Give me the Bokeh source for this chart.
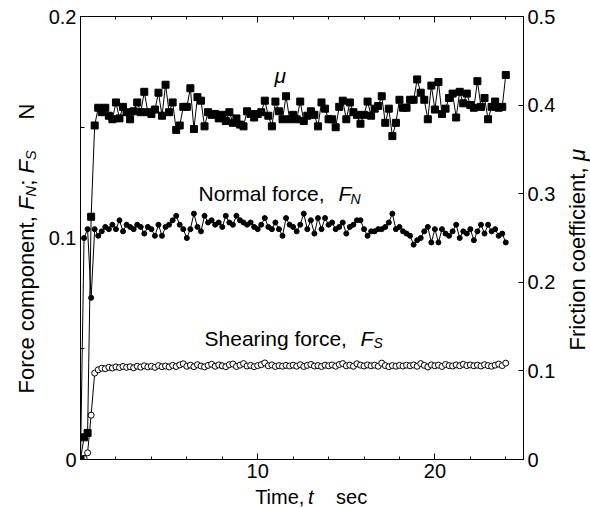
import numpy as np
from bokeh.plotting import figure
from bokeh.layouts import row, column
from bokeh.models import Range1d, LinearAxis, FixedTicker, Label
from bokeh.embed import file_html
from bokeh.resources import INLINE

# ---------------- data ----------------
time_s = [0.0, 0.2, 0.4, 0.6, 0.8, 1.0, 1.2, 1.4, 1.6, 1.8,
          2.0, 2.2, 2.4, 2.6, 2.8, 3.0, 3.2, 3.4, 3.6, 3.8,
          4.0, 4.2, 4.4, 4.6, 4.8, 5.0, 5.2, 5.4, 5.6, 5.8,
          6.0, 6.2, 6.4, 6.6, 6.8, 7.0, 7.2, 7.4, 7.6, 7.8,
          8.0, 8.2, 8.4, 8.6, 8.8, 9.0, 9.2, 9.4, 9.6, 9.8,
          10.0, 10.2, 10.4, 10.6, 10.8, 11.0, 11.2, 11.4, 11.6, 11.8,
          12.0, 12.2, 12.4, 12.6, 12.8, 13.0, 13.2, 13.4, 13.6, 13.8,
          14.0, 14.2, 14.4, 14.6, 14.8, 15.0, 15.2, 15.4, 15.6, 15.8,
          16.0, 16.2, 16.4, 16.6, 16.8, 17.0, 17.2, 17.4, 17.6, 17.8,
          18.0, 18.2, 18.4, 18.6, 18.8, 19.0, 19.2, 19.4, 19.6, 19.8,
          20.0, 20.2, 20.4, 20.6, 20.8, 21.0, 21.2, 21.4, 21.6, 21.8,
          22.0, 22.2, 22.4, 22.6, 22.8, 23.0, 23.2, 23.4, 23.6, 23.8,
          24.0]

friction_mu = [0.0, 0.025, 0.030, 0.274, 0.377, 0.397, 0.392, 0.397, 0.388, 0.384,
               0.403, 0.385, 0.398, 0.392, 0.384, 0.393, 0.403, 0.392, 0.415, 0.392,
               0.390, 0.395, 0.414, 0.388, 0.423, 0.392, 0.403, 0.372, 0.377, 0.398,
               0.398, 0.419, 0.373, 0.409, 0.405, 0.376, 0.392, 0.389, 0.390, 0.385,
               0.389, 0.382, 0.392, 0.380, 0.385, 0.378, 0.376, 0.393, 0.390, 0.386,
               0.390, 0.392, 0.405, 0.388, 0.376, 0.404, 0.393, 0.384, 0.410, 0.384,
               0.389, 0.384, 0.404, 0.382, 0.388, 0.393, 0.389, 0.376, 0.403, 0.396,
               0.384, 0.384, 0.375, 0.398, 0.405, 0.384, 0.403, 0.392, 0.389, 0.379,
               0.389, 0.404, 0.388, 0.396, 0.399, 0.410, 0.380, 0.396, 0.365, 0.380,
               0.406, 0.397, 0.397, 0.406, 0.406, 0.429, 0.414, 0.406, 0.384, 0.422,
               0.395, 0.426, 0.390, 0.396, 0.408, 0.413, 0.386, 0.415, 0.402, 0.413,
               0.400, 0.397, 0.427, 0.398, 0.408, 0.384, 0.398, 0.404, 0.397, 0.398,
               0.434]

normal_force = [0.0, 0.100, 0.104, 0.073, 0.104, 0.101, 0.103, 0.105, 0.104, 0.106,
                0.104, 0.108, 0.103, 0.106, 0.105, 0.104, 0.106, 0.105, 0.102, 0.105,
                0.104, 0.101, 0.106, 0.101, 0.105, 0.106, 0.108, 0.110, 0.106, 0.104,
                0.100, 0.104, 0.111, 0.105, 0.103, 0.110, 0.107, 0.108, 0.106, 0.107,
                0.105, 0.110, 0.107, 0.106, 0.110, 0.108, 0.107, 0.106, 0.107, 0.105,
                0.104, 0.106, 0.109, 0.105, 0.104, 0.107, 0.104, 0.101, 0.109, 0.106,
                0.105, 0.103, 0.106, 0.111, 0.104, 0.108, 0.102, 0.109, 0.104, 0.109,
                0.106, 0.107, 0.104, 0.105, 0.107, 0.102, 0.105, 0.106, 0.108, 0.108,
                0.104, 0.101, 0.103, 0.103, 0.104, 0.104, 0.105, 0.107, 0.111, 0.104,
                0.105, 0.103, 0.102, 0.101, 0.097, 0.099, 0.100, 0.103, 0.105, 0.098,
                0.104, 0.098, 0.104, 0.102, 0.101, 0.103, 0.106, 0.100, 0.103, 0.102,
                0.104, 0.099, 0.103, 0.106, 0.102, 0.106, 0.103, 0.104, 0.101, 0.102,
                0.098]

shear_force = [0.0, 0.0005, 0.003, 0.020, 0.039, 0.0405, 0.0412, 0.0410, 0.0416, 0.0413,
               0.0418, 0.0415, 0.0420, 0.0416, 0.0419, 0.0414, 0.0421, 0.0417, 0.0423, 0.0418,
               0.0421, 0.0416, 0.0424, 0.0419, 0.0422, 0.0418, 0.0425, 0.0420, 0.0427, 0.0432,
               0.0421, 0.0426, 0.0419, 0.0428, 0.0422, 0.0418, 0.0425, 0.0430, 0.0421, 0.0427,
               0.0423, 0.0419, 0.0428, 0.0431, 0.0420, 0.0426, 0.0433, 0.0422, 0.0425, 0.0419,
               0.0424, 0.0428, 0.0436, 0.0423, 0.0427, 0.0420, 0.0424, 0.0421, 0.0425, 0.0422,
               0.0426, 0.0421, 0.0428, 0.0420, 0.0425, 0.0429, 0.0422, 0.0424, 0.0420, 0.0426,
               0.0423, 0.0427, 0.0421, 0.0429, 0.0433, 0.0423, 0.0426, 0.0421, 0.0432, 0.0426,
               0.0422, 0.0427, 0.0423, 0.0426, 0.0421, 0.0435, 0.0424, 0.0419, 0.0424, 0.0421,
               0.0425, 0.0422, 0.0426, 0.0423, 0.0427, 0.0421, 0.0433, 0.0425, 0.0418, 0.0427,
               0.0423, 0.0426, 0.0420, 0.0429, 0.0424, 0.0422, 0.0427, 0.0423, 0.0430, 0.0424,
               0.0427, 0.0423, 0.0426, 0.0422, 0.0428, 0.0424, 0.0421, 0.0426, 0.0431, 0.0424,
               0.0435]

x_major = [0, 10, 20]
x_minor = [2, 4, 6, 8, 12, 14, 16, 18, 22, 24]
x_labels = {0: "", 10: "10", 20: "20"}
yl_major = [0, 0.1, 0.2]
yl_minor = [0.05, 0.15]
yl_labels = {0: "0", 0.1: "0.1", 0.2: "0.2"}
yr_major = [0, 0.1, 0.2, 0.3, 0.4, 0.5]
yr_labels = {0: "0", 0.1: "0.1", 0.2: "0.2", 0.3: "0.3", 0.4: "0.4", 0.5: "0.5"}

FONT = "Liberation Sans"
TICK_FS = "20px"
TXT_FS = 21      # in-plot annotations
VT_FS = 22       # rotated axis titles
VSUB_FS = 15
SUB_FS = 14
BT_FS = 20       # bottom title
CORR = 5         # baseline correction (px)

# ---------------- main figure ----------------
p = figure(width=520, height=487, x_range=Range1d(0, 25), y_range=Range1d(0, 0.2),
           output_backend="svg", toolbar_location=None,
           min_border_left=40, min_border_right=37, min_border_top=16, min_border_bottom=28)
p.extra_y_ranges = {"mu": Range1d(0, 0.5)}
p.grid.visible = False
p.outline_line_color = "black"
p.outline_line_width = 1
p.background_fill_color = "white"
p.border_fill_color = "white"


def style_axis(ax, tin, minin):
    ax.axis_line_color = "black"
    ax.axis_line_width = 1
    ax.major_tick_line_color = "black"
    ax.minor_tick_line_color = "black"
    ax.major_tick_in = tin
    ax.major_tick_out = 0
    ax.minor_tick_in = minin
    ax.minor_tick_out = 0
    ax.major_label_text_font = FONT
    ax.major_label_text_font_size = TICK_FS
    ax.major_label_text_color = "black"
    ax.major_label_standoff = 4


xb = p.xaxis[0]
xb.ticker = FixedTicker(ticks=x_major, minor_ticks=x_minor)
xb.major_label_overrides = x_labels
style_axis(xb, 6, 3)

yl = p.yaxis[0]
yl.ticker = FixedTicker(ticks=yl_major, minor_ticks=yl_minor)
yl.major_label_overrides = yl_labels
style_axis(yl, 6, 4)

xt = LinearAxis(ticker=FixedTicker(ticks=x_major, minor_ticks=x_minor))
style_axis(xt, 6, 3)
xt.major_label_text_font_size = "0px"
xt.major_label_standoff = 0
xt.major_label_overrides = {0: "", 10: "", 20: ""}
p.add_layout(xt, "above")

yr = LinearAxis(y_range_name="mu", ticker=FixedTicker(ticks=yr_major, minor_ticks=[]))
style_axis(yr, 5, 0)
yr.major_label_overrides = yr_labels
p.add_layout(yr, "right")

# ---------------- series ----------------
p.line(time_s, shear_force, line_color="black", line_width=1)
p.scatter(time_s, shear_force, marker="circle", size=6, fill_color="white",
          line_color="black", line_width=1)

p.line(time_s, normal_force, line_color="black", line_width=1)
p.scatter(time_s, normal_force, marker="circle", size=5, fill_color="black",
          line_color="black", line_width=1)

p.line(time_s, friction_mu, line_color="black", line_width=1, y_range_name="mu")
p.scatter(time_s, friction_mu, marker="square", size=7, fill_color="black",
          line_color="black", line_width=1, y_range_name="mu")


# ---------------- texts ----------------
def lab(fig, x, y, text, size, italic=False, rotated=False, xo=0.0, yo=0.0):
    if rotated:
        xo = xo - CORR
        ang = np.pi / 2
    else:
        yo = yo + CORR
        ang = 0.0
    fig.add_layout(Label(x=x, y=y, text=text, x_offset=xo, y_offset=yo,
                         text_font=FONT, text_font_size=f"{size}px",
                         text_font_style="italic" if italic else "normal",
                         text_color="black", angle=ang,
                         text_align="left", text_baseline="alphabetic"))


AW = {' ': 278, ',': 278, ';': 278, '.': 278, 'F': 611, 'N': 722, 'S': 667, 'T': 611,
      'o': 556, 'r': 333, 'c': 500, 'e': 556, 'm': 833, 'p': 556, 'n': 556, 't': 278,
      'i': 222, 's': 500, 'a': 556, 'l': 222, 'f': 278, 'h': 556, 'g': 556, 'μ': 576}


def tw(s, size):
    return sum(AW.get(c, 556) for c in s) * size / 1000.0


def chain(fig, x, y, segs, rotated):
    off = 0.0
    for text, size, it, sh in segs:
        lead = len(text) - len(text.lstrip(" "))
        start = off + tw(" " * lead, size)
        shown = text.strip(" ")
        if rotated:
            lab(fig, x, y, shown, size, italic=it, rotated=True, xo=sh, yo=start)
        else:
            lab(fig, x, y, shown, size, italic=it, rotated=False, xo=start, yo=-sh)
        off += tw(text, size)


# in-plot annotations (data coordinates of the main plot)
lab(p, 10.95, 0.1711, "μ", TXT_FS, italic=True)
lab(p, 6.66, 0.1178, "Normal force,", TXT_FS)
lab(p, 14.56, 0.1178, "F", TXT_FS, italic=True)
lab(p, 15.24, 0.1178, "N", SUB_FS, italic=True, yo=-5)
lab(p, 7.0, 0.0524, "Shearing force,", TXT_FS)
lab(p, 15.80, 0.0524, "F", TXT_FS, italic=True)
lab(p, 16.53, 0.0524, "S", SUB_FS, italic=True, yo=-5)


def blank(w, h):
    f = figure(width=w, height=h, x_range=Range1d(0, w), y_range=Range1d(0, h),
               output_backend="svg", toolbar_location=None,
               x_axis_location=None, y_axis_location=None,
               min_border_left=0, min_border_right=0, min_border_top=0, min_border_bottom=0)
    f.grid.visible = False
    f.outline_line_color = None
    f.background_fill_color = "white"
    f.border_fill_color = "white"
    return f


# left title panel (page x 0..40); text runs upward from page y 393
left_fig = blank(40, 508)
chain(left_fig, 31, 508 - 393,
      [("Force component, ", VT_FS, False, 0),
       ("F", VT_FS, True, 0),
       ("N", VSUB_FS, True, 4),
       ("; ", VT_FS, False, 0),
       ("F", VT_FS, True, 0),
       ("S", VSUB_FS, True, 4),
       ("     N", VT_FS, False, 0)], rotated=True)

# right title panel (page x 560..590); text runs upward from page y 350
right_fig = blank(30, 508)
chain(right_fig, 22, 508 - 350,
      [("Friction coefficient, ", VT_FS, False, 0),
       ("μ", VT_FS, True, 0)], rotated=True)

# bottom title panel (page x 40..560, y 487..508)
bottom_fig = blank(520, 21)
lab(bottom_fig, 205, 7, "Time,", BT_FS)
lab(bottom_fig, 267, 7, "t", BT_FS, italic=True)
lab(bottom_fig, 300, 7, "sec", BT_FS)

layout = row(left_fig, column(p, bottom_fig, spacing=0), right_fig, spacing=0)

open("out.html", "w").write(file_html(layout, INLINE))
